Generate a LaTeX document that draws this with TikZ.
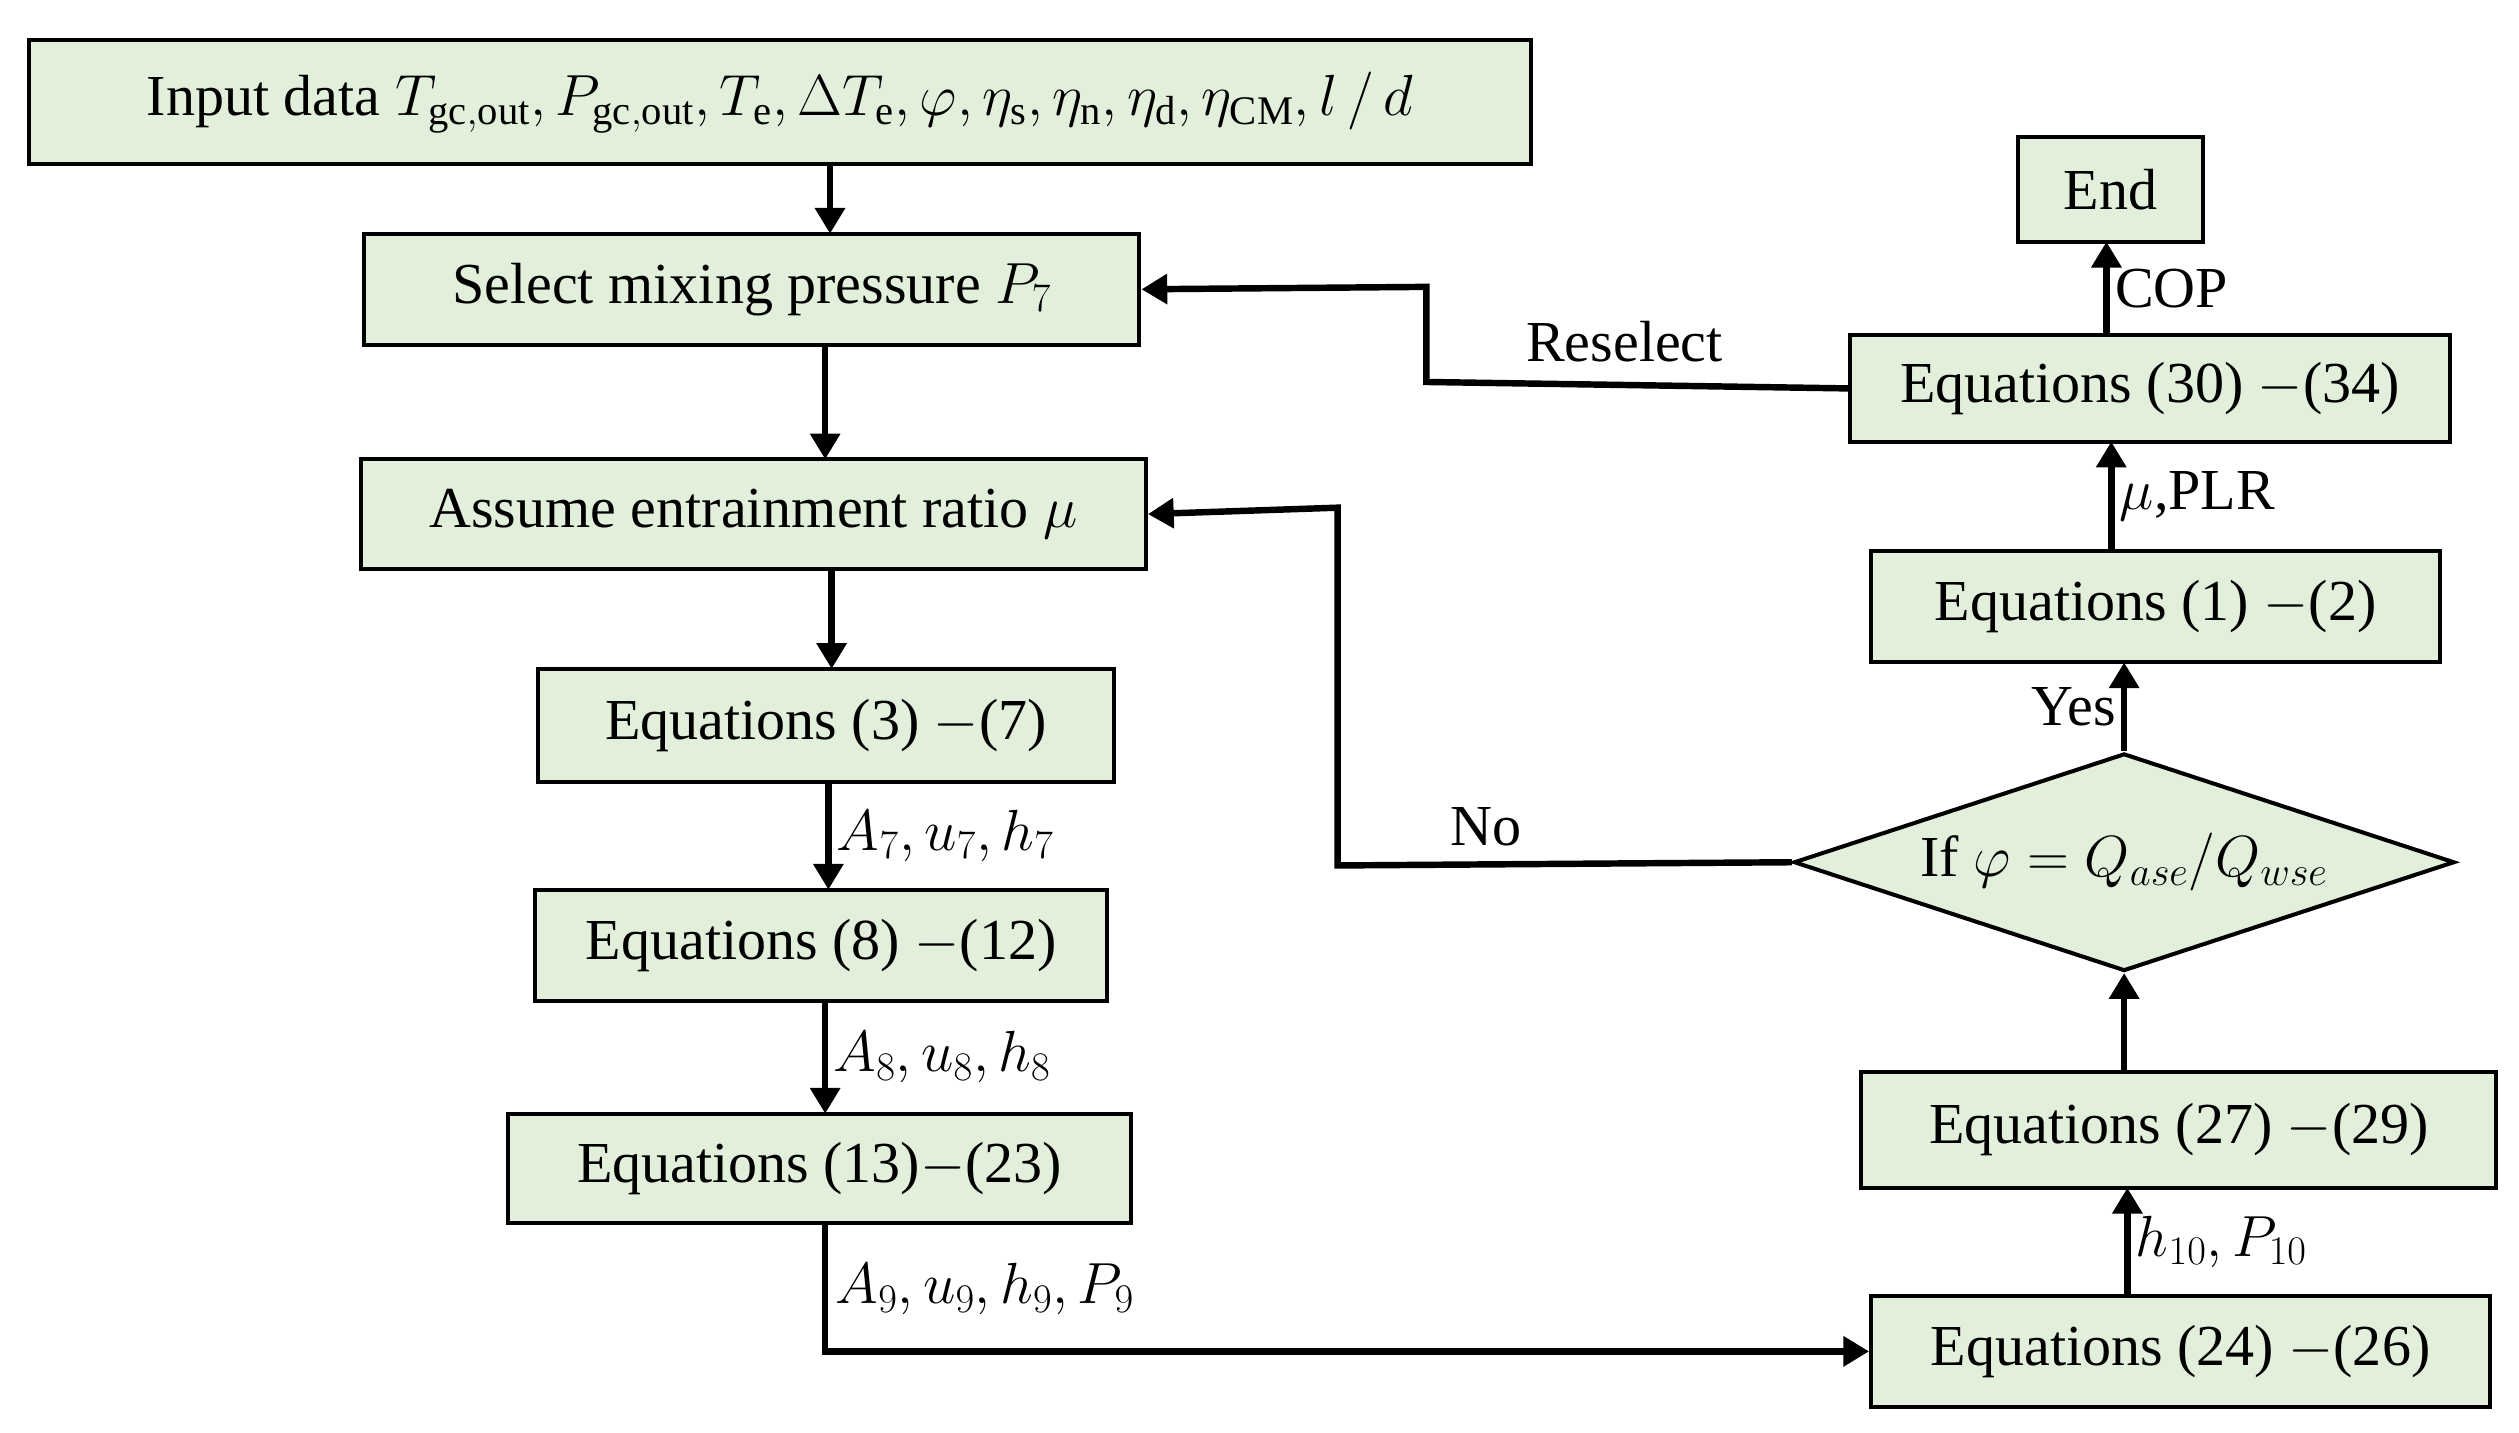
\RequirePackage{fix-cm}
\documentclass[tikz,border=0pt]{standalone}
\usepackage{fontspec}
\setmainfont{Liberation Serif}
\usetikzlibrary{shapes.geometric,arrows.meta}
\begin{document}
\begin{tikzpicture}[x=1pt,y=-1pt,
  box/.style={draw,line width=2.5pt,fill=boxfill,inner sep=0pt,font=\fontsize{36}{40}\selectfont},
  ar/.style={line width=4pt,-{Triangle[length=16pt,width=18pt]}},
  lb/.style={font=\fontsize{36}{40}\selectfont}]
\definecolor{boxfill}{RGB}{226,239,218}
\useasboundingbox (0,0) rectangle (1563,889);
\newcommand\bx[6]{\node[box,minimum width={#4-#2},minimum height={#5-#3}] (#1) at ({(#2+#4)/2},{(#3+#5)/2}) {#6};}
\bx{in}{18}{25}{950}{102}{Input data $T_{\mathrm{gc,out}},P_{\mathrm{gc,out}},T_{\mathrm{e}},\Delta T_{\mathrm{e}},\varphi,\eta_{\mathrm{s}},\eta_{\mathrm{n}},\eta_{\mathrm{d}},\eta_{\mathrm{CM}},l\,/\,d$}
\bx{sel}{226}{145}{707}{214}{Select mixing pressure $P_7$}
\bx{as}{224}{285}{711}{353}{Assume entrainment ratio $\mu$}
\bx{e3}{334}{415}{691}{485}{Equations (3) $-$(7)}
\bx{e8}{332}{552}{687}{621}{Equations (8) $-$(12)}
\bx{e13}{315}{691}{702}{759}{Equations (13)$-$(23)}
\bx{e24}{1161}{804}{1545}{873}{Equations (24) $-$(26)}
\bx{e27}{1155}{665}{1549}{737}{Equations (27) $-$(29)}
\bx{e1}{1161}{342}{1514}{411}{Equations (1) $-$(2)}
\bx{e30}{1148}{208}{1520}{274}{Equations (30) $-$(34)}
\bx{end}{1252}{85}{1367}{150}{End}
\node[box,diamond,aspect=3.04,minimum width=410pt,minimum height=135pt] (dia) at (1318,535) {If $\varphi=Q_{ase}/Q_{wse}$};
\draw[ar] (515,102) -- (515,145);
\draw[ar] (512,214) -- (512,285);
\draw[ar] (516,353) -- (516,415);
\draw[ar] (514,485) -- (514,552) node[lb,midway,right] {$A_7,u_7,h_7$};
\draw[ar] (512,621) -- (512,691) node[lb,midway,right] {$A_8,u_8,h_8$};
\draw[ar] (512,759) |- (e24.west);
\node[lb,anchor=west] at (515,800) {$A_9,u_9,h_9,P_9$};
\draw[ar] (1320,804) -- (1320,737) node[lb,midway,right] {$h_{10},P_{10}$};
\draw[ar] (1318,665) -- (dia.south);
\draw[ar] (dia.north) -- (1318,411) node[lb,midway,left] {Yes};
\draw[ar] (1310,342) -- (1310,274) node[lb,midway,right] {$\mu$,PLR};
\draw[ar] (1307,208) -- (1307,150) node[lb,midway,right] {COP};
\draw[ar] (e30.west) -- (885,237) -- (885,178) -- (sel.east);
\node[lb] at (1008,212) {Reselect};
\draw[ar] (dia.west) -- (830,537) -- (830,315) -- (as.east);
\node[lb] at (922,513) {No};
\end{tikzpicture}
\end{document}
